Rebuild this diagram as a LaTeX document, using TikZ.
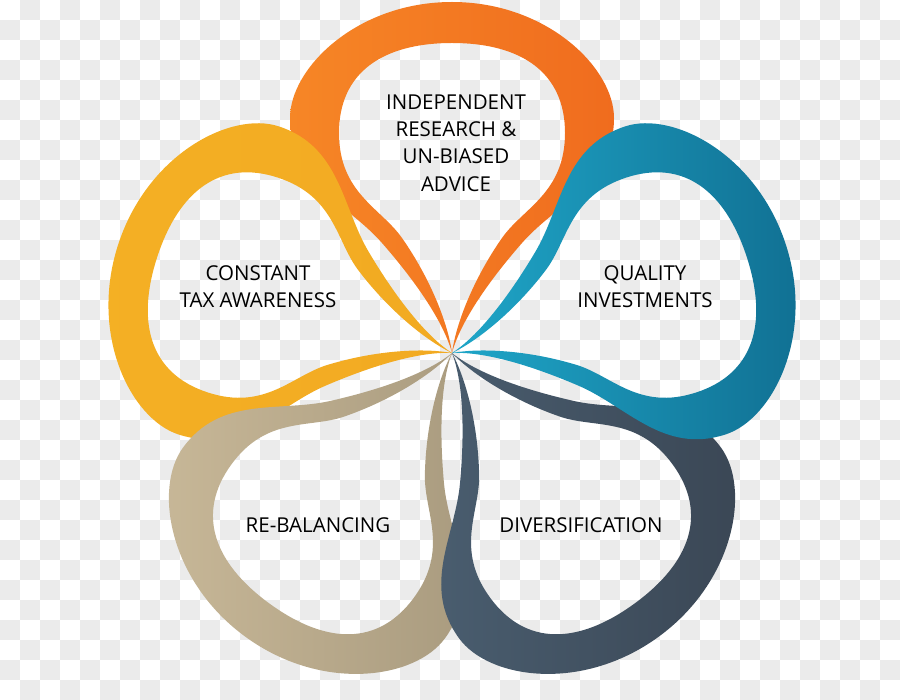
\documentclass[tikz,border=0pt]{standalone}
\usepackage{fontspec}
\setmainfont{Open Sans}
\definecolor{orangeL}{RGB}{246,134,38}
\definecolor{orangeR}{RGB}{240,108,30}
\definecolor{yellowL}{RGB}{244,176,36}
\definecolor{yellowR}{RGB}{242,170,34}
\definecolor{beigeL}{RGB}{200,184,152}
\definecolor{beigeR}{RGB}{168,154,126}
\definecolor{slateL}{RGB}{74,94,112}
\definecolor{slateR}{RGB}{58,70,84}
\definecolor{blueL}{RGB}{31,166,200}
\definecolor{blueR}{RGB}{16,110,145}
\definecolor{checker}{RGB}{235,235,235}
% one petal, tip at the origin, pointing up
\newcommand{\petal}{%
  (0,0) .. controls (-8,30) and (-35,70) .. (-70,110)
  .. controls (-105,150) and (-162,170) .. (-162,235)
  .. controls (-162,285) and (-95,351) .. (0,351)
  .. controls (95,351) and (162,285) .. (162,235)
  .. controls (162,170) and (105,150) .. (70,110)
  .. controls (35,70) and (8,30) .. (0,0) -- cycle
  (0,0) .. controls (-4,30) and (-22,75) .. (-50,115)
  .. controls (-71,145) and (-113,160) .. (-113,220)
  .. controls (-113,280) and (-70,310) .. (0,310)
  .. controls (70,310) and (113,280) .. (113,220)
  .. controls (113,160) and (71,145) .. (50,115)
  .. controls (22,75) and (4,30) .. (0,0) -- cycle}

\begin{document}
\begin{tikzpicture}[
  x=1pt, y=1pt,
  petalband/.style={even odd rule, shift={(452,-353)}},
  lbl/.style={align=center, inner sep=0pt, text=black,
    font=\fontsize{20.5}{27.3}\selectfont}
]
  \useasboundingbox (0,0) rectangle (900,-700);
  % transparency checkerboard
  \foreach \j in {0,2,...,34}
    \foreach \i in {1,3,...,43}
      \fill[checker] (20*\i,-20*\j) rectangle ++(20,-20);
  \foreach \j in {1,3,...,33}
    \foreach \i in {0,2,...,44}
      \fill[checker] (20*\i,-20*\j) rectangle ++(20,-20);

  \foreach \ang/\lc/\rc in {0/orangeL/orangeR, 72/yellowL/yellowR,
      144/beigeL/beigeR, 216/slateL/slateR, 288/blueL/blueR}
    \shade[petalband, rotate=\ang, left color=\lc, right color=\rc] \petal;

  \node[lbl] (independent) at (456,-143)
    {INDEPENDENT\\RESEARCH \&\\UN-BIASED\\ADVICE};
  \node[lbl] (quality) at (645,-287) {QUALITY\\INVESTMENTS};
  \node[lbl] (taxaware) at (258,-287) {CONSTANT\\TAX AWARENESS};
  \node[lbl] (rebalancing) at (318,-525) {RE-BALANCING};
  \node[lbl] (diversification) at (581,-525) {DIVERSIFICATION};
\end{tikzpicture}
\end{document}
